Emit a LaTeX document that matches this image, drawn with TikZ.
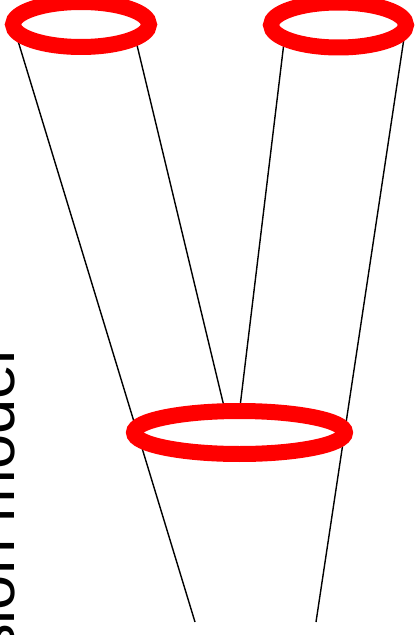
\documentclass[tikz,border=0pt]{standalone}
\usepackage{fontspec}
\setmainfont{Liberation Sans}
\usetikzlibrary{shapes.geometric, backgrounds}
\definecolor{ringred}{HTML}{FF0000}

\begin{document}
\begin{tikzpicture}[x=0.02cm, y=-0.02cm,
    pop/.style={ellipse, draw=ringred, line width=0.32cm, inner sep=0pt, outer sep=0pt},
    lineage/.style={black, line width=0.8pt}]

  \useasboundingbox (0,0) rectangle (416,635);

  % --- Poblaciones (anillos rojos) ---
  \node[pop, minimum width=2.72cm, minimum height=0.9cm] (left) at (81,24.5) {};
  \node[pop, minimum width=2.70cm, minimum height=0.9cm] (right) at (338.5,25) {};
  \node[pop, minimum width=4.22cm, minimum height=0.86cm] (anc) at (239.5,432.5) {};

  % extremos libres abajo
  \coordinate (leftfoot) at (195,622);
  \coordinate (rightfoot) at (316,622);

  % --- Linajes, detras de los anillos ---
  \begin{scope}[on background layer]
    \draw[lineage] (left.west) -- (leftfoot);
    \draw[lineage] (left.-14) -- (anc.124);
    \draw[lineage] (right.-166) -- (anc.north);
    \draw[lineage] (right.east) -- (rightfoot);
  \end{scope}

  % --- Rotulo vertical, cortado por el borde ---
  \node[rotate=90, anchor=base east, inner sep=0pt,
        font=\fontsize{36}{40}\selectfont] (title) at (14,349.5) {sion model};

\end{tikzpicture}
\end{document}
